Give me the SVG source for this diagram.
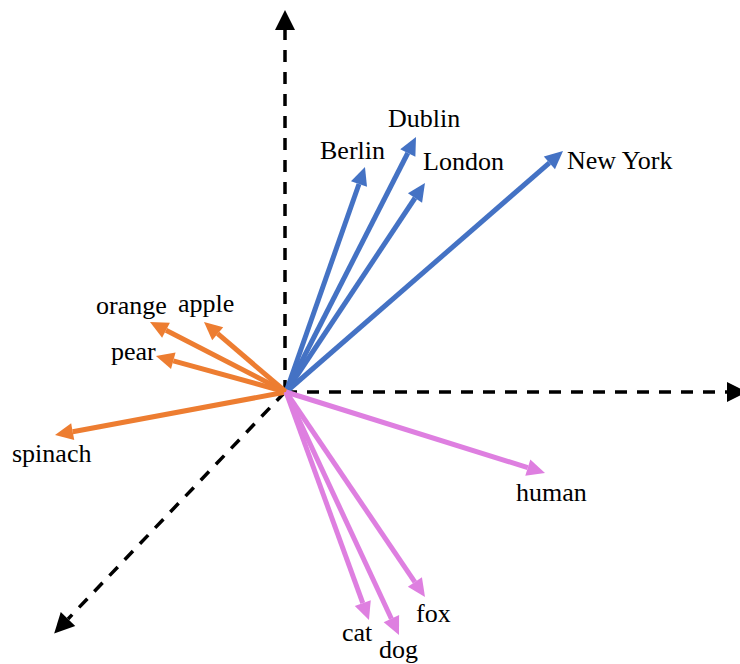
<svg xmlns="http://www.w3.org/2000/svg" width="740" height="664" viewBox="0 0 740 664">
<style>
.lbl{font-family:"Liberation Serif","Times New Roman",serif;font-size:26px;fill:#000}
.axis{stroke:#000;stroke-width:3.5;stroke-dasharray:12 10;fill:none}
.b{stroke:#4472C4;stroke-width:5;fill:none}
.o{stroke:#ED7D31;stroke-width:5;fill:none}
.m{stroke:#DE7FE0;stroke-width:5;fill:none}
</style>
<defs>
<marker id="ak" markerUnits="userSpaceOnUse" markerWidth="22" markerHeight="22" refX="0" refY="10" orient="auto" overflow="visible"><path d="M0,0 L20,10 L0,20 z" fill="#000"/></marker>
<marker id="ab" markerUnits="userSpaceOnUse" markerWidth="20" markerHeight="18" refX="0" refY="8.5" orient="auto" overflow="visible"><path d="M0,0 L18,8.5 L0,17 z" fill="#4472C4"/></marker>
<marker id="ao" markerUnits="userSpaceOnUse" markerWidth="20" markerHeight="18" refX="0" refY="8.5" orient="auto" overflow="visible"><path d="M0,0 L18,8.5 L0,17 z" fill="#ED7D31"/></marker>
<marker id="am" markerUnits="userSpaceOnUse" markerWidth="20" markerHeight="18" refX="0" refY="8.5" orient="auto" overflow="visible"><path d="M0,0 L18,8.5 L0,17 z" fill="#DE7FE0"/></marker>
</defs>
<g id="axes">
<line class="axis" x1="285" y1="392" x2="285" y2="30" marker-end="url(#ak)"/>
<line class="axis" x1="285" y1="392" x2="727" y2="392" marker-end="url(#ak)"/>
<line class="axis" x1="285" y1="392" x2="68" y2="619" marker-end="url(#ak)"/>
</g>
<g id="connectors">
<line class="b" x1="286" y1="392" x2="359" y2="184" marker-end="url(#ab)"/>
<line class="b" x1="286" y1="392" x2="407.8" y2="153" marker-end="url(#ab)"/>
<line class="b" x1="286" y1="392" x2="415" y2="198" marker-end="url(#ab)"/>
<line class="b" x1="286" y1="392" x2="549.4" y2="162.8" marker-end="url(#ab)"/>
<line class="o" x1="286" y1="392" x2="166" y2="330.2" marker-end="url(#ao)"/>
<line class="o" x1="286" y1="392" x2="217.7" y2="333.7" marker-end="url(#ao)"/>
<line class="o" x1="286" y1="392" x2="173.3" y2="360.8" marker-end="url(#ao)"/>
<line class="o" x1="286" y1="392" x2="72.7" y2="431.7" marker-end="url(#ao)"/>
<line class="m" x1="286" y1="392" x2="527.8" y2="467.6" marker-end="url(#am)"/>
<line class="m" x1="286" y1="392" x2="414.9" y2="582.1" marker-end="url(#am)"/>
<line class="m" x1="286" y1="392" x2="362.8" y2="603.1" marker-end="url(#am)"/>
<line class="m" x1="286" y1="392" x2="391.4" y2="618.7" marker-end="url(#am)"/>
</g>
<g id="berlin"><text class="lbl" x="320" y="159">Berlin</text></g>
<g id="dublin"><text class="lbl" x="388" y="127">Dublin</text></g>
<g id="london"><text class="lbl" x="423" y="170">London</text></g>
<g id="newyork"><text class="lbl" x="567" y="169">New York</text></g>
<g id="orange"><text class="lbl" x="96" y="314">orange</text></g>
<g id="apple"><text class="lbl" x="178" y="312">apple</text></g>
<g id="pear"><text class="lbl" x="111" y="360">pear</text></g>
<g id="spinach"><text class="lbl" x="12" y="462">spinach</text></g>
<g id="human"><text class="lbl" x="516" y="501">human</text></g>
<g id="fox"><text class="lbl" x="416" y="622">fox</text></g>
<g id="cat"><text class="lbl" x="342" y="641">cat</text></g>
<g id="dog"><text class="lbl" x="379" y="658">dog</text></g>
</svg>
